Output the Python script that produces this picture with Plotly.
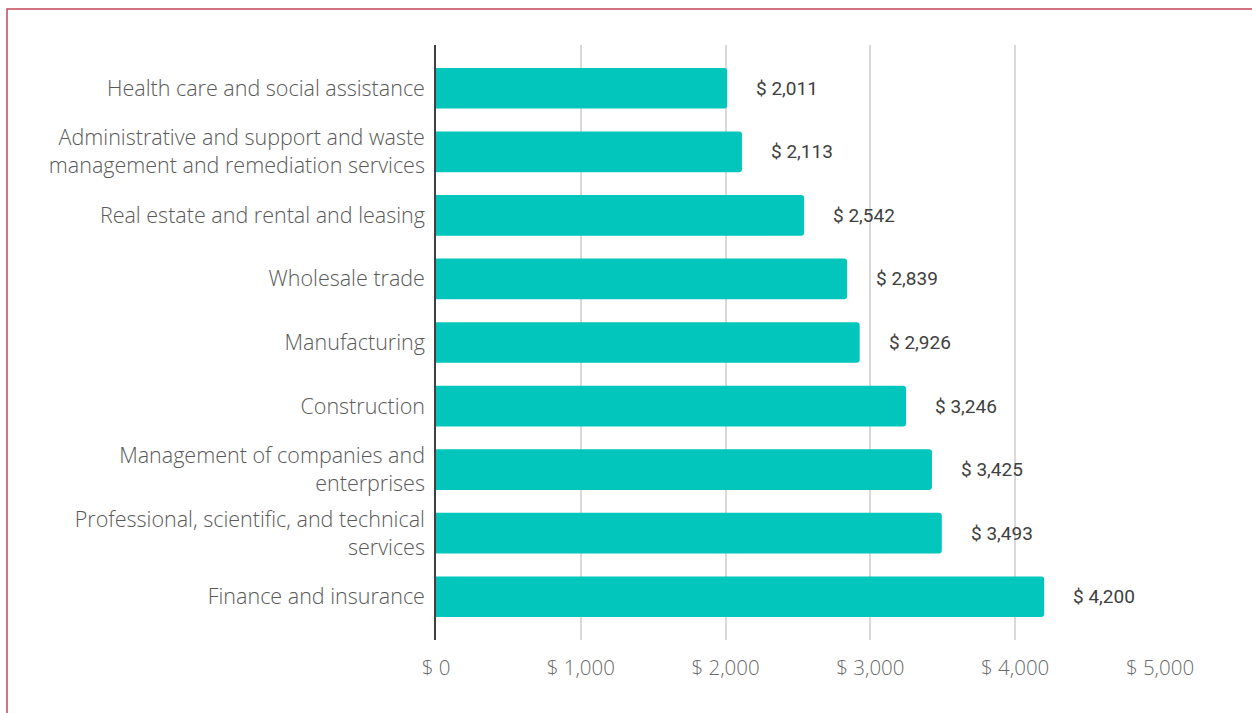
import plotly.graph_objects as go

categories = [
    "Health care and social assistance",
    "Administrative and support and waste<br>management and remediation services",
    "Real estate and rental and leasing",
    "Wholesale trade",
    "Manufacturing",
    "Construction",
    "Management of companies and<br>enterprises",
    "Professional, scientific, and technical<br>services",
    "Finance and insurance",
]
values = [2011, 2113, 2542, 2839, 2926, 3246, 3425, 3493, 4200]
x_ticks = [0, 1000, 2000, 3000, 4000, 5000]
x_tick_labels = ["$ 0", "$ 1,000", "$ 2,000", "$ 3,000", "$ 4,000", "$ 5,000"]

BAR = "#02C5BC"
CAT_FONT = dict(family="Open Sans, sans-serif", size=21.5, color="#595959", weight=300)
VAL_FONT = dict(family="Roboto, sans-serif", size=19, color="#404040")

fig = go.Figure()
fig.add_trace(go.Bar(
    x=values, y=categories, orientation="h",
    marker=dict(color=BAR, line=dict(width=0)),
    hoverinfo="skip",
))

for c, v in zip(categories, values):
    fig.add_annotation(x=v, y=c, text=f"$ {v:,}", showarrow=False,
                       xanchor="left", xshift=27, font=VAL_FONT)

W, H = 1252, 713
L, R, T, B = 436, 92, 45, 73
pw, ph = W - L - R, H - T - B
# outer frame (red border), cut off at right/bottom like reference
fig.add_shape(type="rect", xref="paper", yref="paper",
              x0=(7 - L) / pw, x1=(W + 20 - L) / pw,
              y0=-(H + 20 - (H - B)) / ph, y1=((H - B) - 9) / ph,
              line=dict(color="#C4475A", width=1.5), layer="below")

fig.update_layout(
    width=W, height=H,
    margin=dict(l=L, r=R, t=T, b=B),
    paper_bgcolor="white", plot_bgcolor="white",
    bargap=0.36, barcornerradius=3,
    showlegend=False,
)
fig.update_xaxes(
    range=[0, 5000], tickvals=x_ticks, ticktext=x_tick_labels,
    showgrid=True, gridcolor="#D9D9D9", gridwidth=1.5,
    zeroline=False, showline=False,
    tickfont=dict(family="Open Sans, sans-serif", size=20.5, color="#6A6A6A", weight=300),
    ticklabelstandoff=13,
)
fig.update_yaxes(
    categoryorder="array", categoryarray=categories,
    range=[8.68, -0.68],
    showgrid=False, zeroline=False,
    showline=True, linecolor="#404040", linewidth=1.5,
    tickfont=CAT_FONT, ticklabelstandoff=5,
)

fig.write_html("out.html", config={"displayModeBar": False},
               post_script="document.body.style.margin='0px';document.body.style.overflow='hidden';")
